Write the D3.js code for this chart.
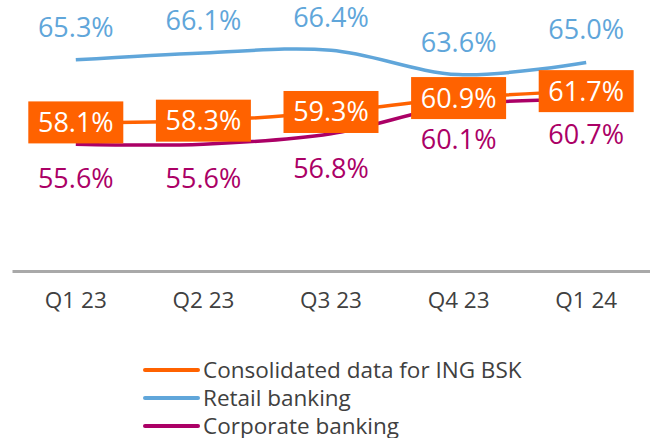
<!DOCTYPE html>
<html>
<head>
<meta charset="utf-8">
<script src="https://cdn.jsdelivr.net/npm/d3@7"></script>
<style>
  body { margin: 0; background: #fff; }
  svg { display: block; font-family: "Open Sans", "Noto Sans", sans-serif; }
</style>
</head>
<body>
<div id="chart"></div>
<script>
const quarters=["Q1 23", "Q2 23", "Q3 23", "Q4 23", "Q1 24"];
const consolidated=[58.1, 58.3, 59.3, 60.9, 61.7];
const retail=[65.3, 66.1, 66.4, 63.6, 65.0];
const corporate=[55.6, 55.6, 56.8, 60.1, 60.7];

const seriesNames=["Consolidated data for ING BSK", "Retail banking", "Corporate banking"];
const colors={orange: "#ff6200", blue: "#60a6da", plum: "#ab0066"};

const width=650, height=438;

const svg=d3.select("#chart").append("svg")
    .attr("width", width)
    .attr("height", height);

const x=d3.scaleBand().domain(quarters).range([12, 650]);
const y=d3.scaleLinear().domain([41, 70]).range([271, 19]);
const cx=q => x(q)+x.bandwidth()/2;

// x axis, just the baseline and labels
const axis=svg.append("g")
    .attr("transform", "translate(0,271)")
    .call(d3.axisBottom(x).tickSize(0).tickSizeOuter(0).tickPadding(21));
axis.select(".domain").attr("stroke", "#a9a9a9").attr("stroke-width", 3);
axis.selectAll("text")
    .attr("fill", "#404040")
    .style("font-family", "'Open Sans', sans-serif")
    .style("font-size", "22.5px");

const line=d3.line()
    .x((d, i) => cx(quarters[i]))
    .y(d => y(d))
    .curve(d3.curveCatmullRom.alpha(0.5));

function drawLine (values, color) {
    svg.append("path")
        .datum(values)
        .attr("fill", "none")
        .attr("stroke", color)
        .attr("stroke-width", 3.5)
        .attr("d", line);
}

drawLine(retail, colors.blue);
drawLine(corporate, colors.plum);
drawLine(consolidated, colors.orange);

// retail labels above
svg.selectAll(".lbl-retail")
    .data(retail)
    .enter().append("text")
    .attr("class", "lbl-retail")
    .attr("x", (d, i) => cx(quarters[i]))
    .attr("y", d => y(d)-32.5)
    .attr("dy", "0.35em")
    .attr("text-anchor", "middle")
    .attr("fill", colors.blue)
    .style("font-size", "27px")
    .text(d => d.toFixed(1)+"%");

// corporate labels below
svg.selectAll(".lbl-corp")
    .data(corporate)
    .enter().append("text")
    .attr("class", "lbl-corp")
    .attr("x", (d, i) => cx(quarters[i]))
    .attr("y", d => y(d)+34.5)
    .attr("dy", "0.35em")
    .attr("text-anchor", "middle")
    .attr("fill", colors.plum)
    .style("font-size", "27px")
    .style("font-weight", 500)
    .text(d => d.toFixed(1)+"%");

// consolidated labels in orange boxes
const box=svg.selectAll(".lbl-cons")
    .data(consolidated)
    .enter().append("g")
    .attr("class", "lbl-cons")
    .attr("transform", (d, i) => `translate(${cx(quarters[i])},${y(d)})`);

box.append("rect")
    .attr("x", -47.5)
    .attr("y", -21)
    .attr("width", 95)
    .attr("height", 42)
    .attr("fill", colors.orange);

box.append("text")
    .attr("text-anchor", "middle")
    .attr("dy", "0.35em")
    .attr("fill", "#fff")
    .style("font-size", "27px")
    .text(d => d.toFixed(1)+"%");

// legend
const legendColors=[colors.orange, colors.blue, colors.plum];
const legend=svg.selectAll(".legend")
    .data(seriesNames)
    .enter().append("g")
    .attr("class", "legend")
    .attr("transform", (d, i) => `translate(145,${370+i*28})`);

legend.append("line")
    .attr("x1", 0)
    .attr("x2", 53)
    .attr("stroke", (d, i) => legendColors[i])
    .attr("stroke-width", 4)
    .attr("stroke-linecap", "round");

legend.append("text")
    .attr("x", 58)
    .attr("dy", "0.35em")
    .attr("fill", "#404040")
    .style("font-size", "22.5px")
    .text(d => d);
</script>
</body>
</html>
